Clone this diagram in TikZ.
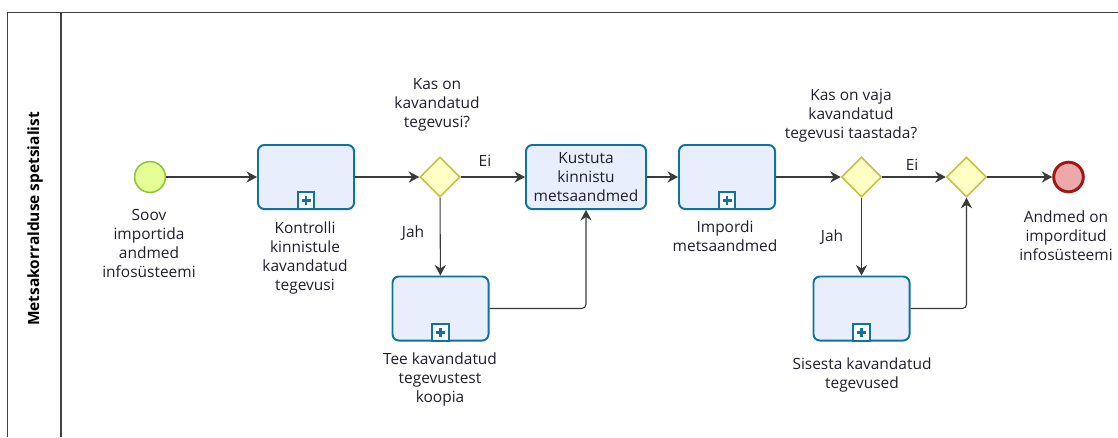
\documentclass[tikz,border=0pt]{standalone}
\usepackage{fontspec}
\setmainfont{Open Sans}
\usetikzlibrary{shapes.geometric,arrows.meta,positioning}
\definecolor{taskblue}{HTML}{10739E}
\definecolor{taskfill}{HTML}{E9EEFC}
\definecolor{gateline}{HTML}{C2C24A}
\definecolor{gatefill}{HTML}{FFFFC3}
\definecolor{startline}{HTML}{8CC43C}
\definecolor{startfill}{HTML}{E5FE96}
\definecolor{endline}{HTML}{A01818}
\definecolor{endfill}{HTML}{EDA8A9}
\definecolor{flowgray}{HTML}{3A3A3A}
\definecolor{txtcol}{HTML}{1E1E2E}

\begin{document}
\begin{tikzpicture}[x=0.025cm, y=0.025cm,
  lbl/.style={font=\fontsize{11}{13.5}\selectfont, align=center, text=txtcol, inner sep=0pt},
  task/.style={draw=taskblue, fill=taskfill, line width=1.4pt, rounded corners=4.5pt,
    minimum width=2.4cm, minimum height=1.6cm, inner sep=0pt, lbl},
  gate/.style={diamond, draw=gateline, fill=gatefill, line width=1.1pt,
    minimum width=1cm, minimum height=1cm, inner sep=0pt},
  startev/.style={circle, draw=startline, fill=startfill, line width=1.1pt, minimum size=0.77cm, inner sep=0pt},
  endev/.style={circle, draw=endline, fill=endfill, line width=2.1pt, minimum size=0.74cm, inner sep=0pt},
  plusbox/.style={draw=taskblue, fill=white, line width=1.3pt, minimum size=0.42cm, inner sep=0pt, anchor=south},
  flow/.style={draw=flowgray, line width=0.75pt, rounded corners=3pt,
    -{Stealth[length=7.5pt,width=8pt,inset=2.5pt]}},
  poolline/.style={draw=black!75, line width=0.9pt}]

\useasboundingbox (0,0) rectangle (1118,-437);

\draw[poolline] (7.5,-437) -- (7.5,-12.5) -- (1118,-12.5);
\draw[poolline] (61,-12.5) -- (61,-437);
\node[rotate=90, font=\fontsize{11}{12}\selectfont\bfseries, inner sep=0pt] (lane) at (35,-219) {Metsakorralduse spetsialist};

\node[startev] (start) at (150,-177) {};
\node[task] (kontr) at (306,-177) {};
\node[gate] (gw1) at (440,-177) {};
\node[task, minimum width=3cm] (kustuta) at (586,-177) {Kustuta\\kinnistu\\metsaandmed};
\node[task] (koopia) at (440.5,-308.5) {};
\node[task] (impordi) at (727,-177) {};
\node[gate] (gw2) at (861.5,-177) {};
\node[gate] (gw3) at (966.5,-177) {};
\node[task] (sisesta) at (861.5,-308.5) {};
\node[endev] (end) at (1068.5,-177) {};

\foreach \t in {kontr,koopia,impordi,sisesta}{
  \node[plusbox] (\t p) at (\t.south) {};
  \draw[taskblue, line width=1.9pt] (\t p.center) +(-4.5,0) -- +(4.5,0) (\t p.center) +(0,-4.5) -- +(0,4.5);
}

\node[lbl] (startlbl) at (149,-243.5) {Soov\\importida\\andmed\\infosüsteemi};
\node[lbl] (kontrlbl) at (305,-258) {Kontrolli\\kinnistule\\kavandatud\\tegevusi};
\node[lbl] (q1) at (437,-105) {Kas on\\kavandatud\\tegevusi?};
\node[lbl] (koopialbl) at (440,-379) {Tee kavandatud\\tegevustest\\koopia};
\node[lbl] (impordilbl) at (725,-236.5) {Impordi\\metsaandmed};
\node[lbl] (q2) at (851,-116) {Kas on vaja\\kavandatud\\tegevusi taastada?};
\node[lbl] (sisestalbl) at (862,-375) {Sisesta kavandatud\\tegevused};
\node[lbl] (endlbl) at (1066,-235.5) {Andmed on\\imporditud\\infosüsteemi};

\node[lbl] (ei1) at (485,-161) {Ei};
\node[lbl] (jah1) at (413,-233) {Jah};
\node[lbl] (ei2) at (912,-165) {Ei};
\node[lbl] (jah2) at (832,-237) {Jah};

\draw[flow] (start) -- (kontr);
\draw[flow] (kontr) -- (gw1);
\draw[flow] (gw1) -- (kustuta);
\draw[flow] (gw1) -- (koopia);
\draw[flow] (koopia.east) -| (kustuta.south);
\draw[flow] (kustuta) -- (impordi);
\draw[flow] (impordi) -- (gw2);
\draw[flow] (gw2) -- (gw3);
\draw[flow] (gw2) -- (sisesta);
\draw[flow] (sisesta.east) -| (gw3.south);
\draw[flow] (gw3) -- (end);

\end{tikzpicture}
\end{document}
